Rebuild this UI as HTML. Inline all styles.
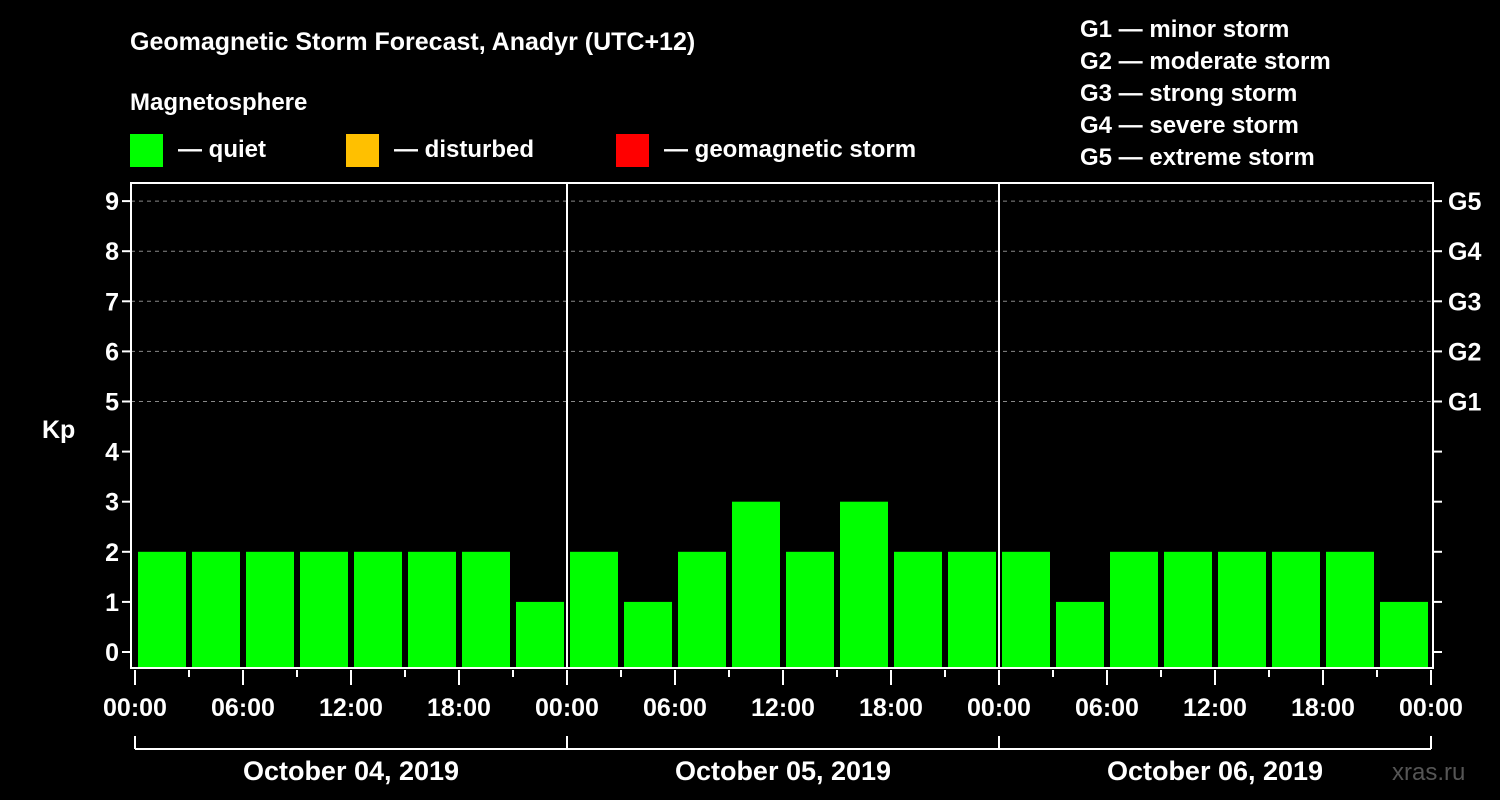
<!DOCTYPE html>
<html><head><meta charset="utf-8"><style>
html,body{margin:0;padding:0;background:#000;}
svg{display:block;font-family:"Liberation Sans",Arial,sans-serif;font-weight:bold;}
</style></head><body>
<svg id="chart" width="1500" height="800" viewBox="0 0 1500 800">
<rect width="1500" height="800" fill="#000"/>
<text x="130" y="50" fill="#fff" font-size="25">Geomagnetic Storm Forecast, Anadyr (UTC+12)</text>
<text x="130" y="110" fill="#fff" font-size="24">Magnetosphere</text>
<g><rect x="130" y="134" width="33" height="33" fill="#00ff00"/><text x="178" y="157" fill="#fff" font-size="24">— quiet</text></g>
<g><rect x="346" y="134" width="33" height="33" fill="#ffc000"/><text x="394" y="157" fill="#fff" font-size="24">— disturbed</text></g>
<g><rect x="616" y="134" width="33" height="33" fill="#ff0000"/><text x="664" y="157" fill="#fff" font-size="24">— geomagnetic storm</text></g>
<g fill="#fff" font-size="24">
<text x="1080" y="37">G1 — minor storm</text>
<text x="1080" y="69">G2 — moderate storm</text>
<text x="1080" y="101">G3 — strong storm</text>
<text x="1080" y="133">G4 — severe storm</text>
<text x="1080" y="165">G5 — extreme storm</text>
</g>
<text x="42" y="438" fill="#fff" font-size="25">Kp</text>
<text x="1392" y="780" fill="#555" font-size="24" font-weight="normal">xras.ru</text>
<g id="grid"></g><g id="bars"></g><g id="axes"></g>
</svg>
<script>
const kpValues=[2,2,2,2,2,2,2,1, 2,1,2,3,2,3,2,2, 2,1,2,2,2,2,2,1];
const yTicks=[0,1,2,3,4,5,6,7,8,9];
const gLabels=["G1","G2","G3","G4","G5"];
const timeLabels=["00:00","06:00","12:00","18:00"];
const dayLabels=["October 04, 2019","October 05, 2019","October 06, 2019"];
const NS="http://www.w3.org/2000/svg";
const L=131,R=1433,T=183,B=668,X0=135,DAY=432;
const y=v=>652-v*50.1;
const x=h=>X0+h*(DAY/24);
function mk(t,a,p){const e=document.createElementNS(NS,t);for(const k in a)e.setAttribute(k,a[k]);p.appendChild(e);return e;}
const grid=document.getElementById('grid'),bars=document.getElementById('bars'),axes=document.getElementById('axes');
yTicks.forEach(v=>{if(v>=5){const l=mk('line',{x1:L,x2:R,y1:y(v),y2:y(v),stroke:'#888','stroke-dasharray':'4,4','stroke-width':1},grid);

}});
kpValues.forEach((v,i)=>{const x1=x(i*3)+3,x2=x(i*3+3)-3;
const r=mk('rect',{x:x1,y:y(v),width:x2-x1,height:B-y(v),fill:v>=5?'#ff0000':(v>=4?'#ffc000':'#00ff00')},bars);

});
// frame
const fr=mk('rect',{x:L,y:T,width:R-L,height:B-T,fill:'none',stroke:'#fff','stroke-width':2},axes);


for(let d=1;d<3;d++){const l=mk('line',{x1:x(d*24),x2:x(d*24),y1:T,y2:B,stroke:'#fff','stroke-width':2},axes);

}
yTicks.forEach(v=>{mk('line',{x1:L-9,x2:L,y1:y(v),y2:y(v),stroke:'#fff','stroke-width':2},axes);
mk('line',{x1:R,x2:R+9,y1:y(v),y2:y(v),stroke:'#fff','stroke-width':2},axes);
const t=mk('text',{x:L-12,y:y(v)+9,fill:'#fff','font-size':25,'text-anchor':'end'},axes);t.textContent=v;

});
gLabels.forEach((g,i)=>{const t=mk('text',{x:R+15,y:y(5+i)+9,fill:'#fff','font-size':25},axes);t.textContent=g;

});
for(let h=0;h<=72;h+=3){const long=h%6===0;mk('line',{x1:x(h),x2:x(h),y1:B+2,y2:long?B+17:B+9,stroke:'#fff','stroke-width':2},axes);
if(long){const t=mk('text',{x:x(h),y:716,fill:'#fff','font-size':25,'text-anchor':'middle'},axes);t.textContent=timeLabels[(h/6)%4];

}}
mk('line',{x1:x(0),x2:x(72),y1:749,y2:749,stroke:'#fff','stroke-width':2},axes);
for(let d=0;d<=3;d++)mk('line',{x1:x(d*24),x2:x(d*24),y1:736,y2:749,stroke:'#fff','stroke-width':2},axes);
dayLabels.forEach((s,i)=>{const t=mk('text',{x:x(i*24+12),y:780,fill:'#fff','font-size':27,'text-anchor':'middle'},axes);t.textContent=s;

});
</script>
</body></html>
